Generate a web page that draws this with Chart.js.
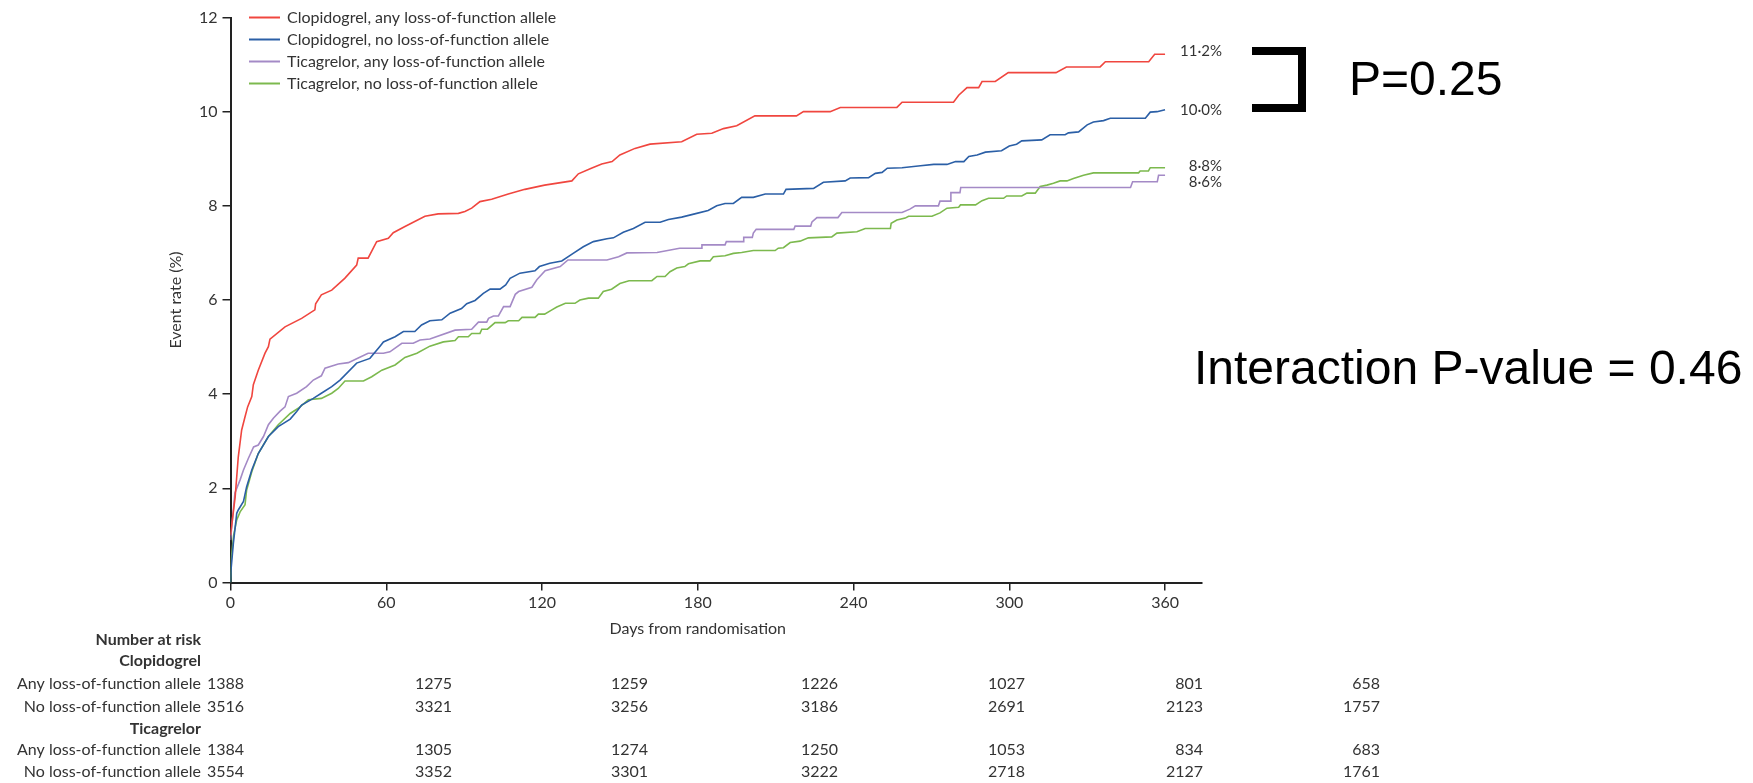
<!DOCTYPE html>
<html>
<head>
<meta charset="utf-8">
<script src="https://cdn.jsdelivr.net/npm/chart.js@4.4.0/dist/chart.umd.min.js"></script>
<style>
  html, body { margin: 0; padding: 0; background: #fff; }
  #wrap { width: 1753px; height: 783px; position: relative; }
</style>
</head>
<body>
<div id="wrap"><canvas id="kmChart"></canvas></div>
<script>
// Series names / colours
const seriesNames = [
  "Clopidogrel, any loss-of-function allele",
  "Clopidogrel, no loss-of-function allele",
  "Ticagrelor, any loss-of-function allele",
  "Ticagrelor, no loss-of-function allele",
];
const seriesColors = ["#f0463f", "#2b5fa6", "#a48ac6", "#7cb94e"];
const endLabels = ["11·2%", "10·0%", "8·6%", "8·8%"];

// Kaplan-Meier curves: [day, event rate %]
const clopAnyCurve = [
  [0, 1.0], [1.8, 1.82], [3.0, 2.67], [4.3, 3.24], [5.6, 3.52], [6.6, 3.73], [8.2, 3.95],
  [8.8, 4.2], [10.7, 4.51], [13.3, 4.87], [14.6, 5.01], [15.2, 5.17], [21, 5.43], [27.4, 5.61],
  [32.5, 5.79], [32.8, 5.92], [35, 6.11], [39, 6.21], [44, 6.46], [48.6, 6.74], [49.2, 6.89],
  [53, 6.89], [56.3, 7.24], [60.8, 7.31], [62.7, 7.43], [67.2, 7.56], [74.9, 7.78], [80, 7.83],
  [87.8, 7.84], [90.3, 7.88], [92.9, 7.95], [96.1, 8.09], [100.6, 8.14], [107, 8.25],
  [113.4, 8.35], [121, 8.44], [131.5, 8.53], [134, 8.68], [139, 8.8], [143, 8.89], [147, 8.94],
  [150, 9.08], [155.8, 9.22], [161.6, 9.31], [173.8, 9.36], [179.6, 9.52], [185.4, 9.54],
  [189.9, 9.64], [195, 9.7], [202, 9.91], [218, 9.91], [220.7, 10.0], [231, 10.0],
  [234.9, 10.09], [256.7, 10.09], [258.7, 10.2], [278.5, 10.2], [280.5, 10.35], [283.7, 10.51],
  [288.2, 10.51], [289.5, 10.64], [294.6, 10.64], [299.6, 10.83], [318, 10.83], [322, 10.95],
  [335, 10.95], [337, 11.06], [353.7, 11.06], [356, 11.22], [360, 11.22],
];
const clopNoCurve = [
  [0, 0], [0.2, 0.27], [1.1, 0.83], [2.4, 1.47], [3, 1.54], [5, 1.72], [6.2, 2.03], [8.2, 2.39],
  [10.7, 2.74], [14.6, 3.1], [18.4, 3.31], [23, 3.47], [25.5, 3.63], [27.4, 3.77], [31.9, 3.91],
  [35, 4.02], [39, 4.16], [42.2, 4.3], [48.6, 4.66], [53.7, 4.76], [57.6, 5.02], [58.9, 5.11],
  [63.4, 5.22], [66.6, 5.33], [71, 5.33], [73.6, 5.47], [76.8, 5.56], [81.4, 5.58], [84.6, 5.72],
  [89, 5.82], [91, 5.92], [94.2, 5.99], [97.4, 6.14], [100, 6.23], [103.8, 6.23], [106, 6.32],
  [107.7, 6.46], [111.5, 6.57], [117.3, 6.62], [119, 6.71], [123, 6.78], [127.6, 6.83],
  [132, 6.99], [135.9, 7.13], [139.8, 7.24], [145, 7.3], [147.5, 7.32], [151.3, 7.44],
  [155.2, 7.52], [159.7, 7.65], [165.5, 7.65], [168.7, 7.71], [173.8, 7.76], [179.6, 7.84],
  [184, 7.9], [187.3, 8.0], [190.5, 8.05], [193.7, 8.05], [196.9, 8.18], [201.4, 8.18],
  [206, 8.25], [213, 8.25], [214, 8.35], [224.6, 8.37], [228.4, 8.5], [236.8, 8.53],
  [238.7, 8.59], [245.8, 8.6], [248.4, 8.69], [251, 8.71], [253, 8.8], [258.7, 8.81],
  [265.8, 8.85], [270.9, 8.88], [276, 8.88], [279.3, 8.94], [282.5, 8.94], [284.4, 9.05],
  [287.6, 9.08], [290.8, 9.14], [297, 9.17], [300, 9.27], [302.8, 9.31], [304.8, 9.38],
  [312.5, 9.4], [315.7, 9.51], [321.5, 9.51], [322.8, 9.55], [326.7, 9.57], [330, 9.72],
  [332.4, 9.78], [336.3, 9.81], [338.9, 9.86], [352.4, 9.86], [354.3, 9.99], [356.9, 10.0],
  [360, 10.04],
];
const ticaAnyCurve = [
  [0, 0.9], [1.7, 1.9], [3.7, 2.18], [5, 2.39], [6.9, 2.64], [8.9, 2.88], [10.7, 2.92],
  [12.7, 3.1], [14.6, 3.35], [16.5, 3.49], [19.1, 3.64], [21, 3.73], [22.3, 3.95], [25.5, 4.02],
  [29.3, 4.16], [31.9, 4.3], [35, 4.39], [36.4, 4.55], [41.5, 4.64], [45.4, 4.67], [49.2, 4.77],
  [53, 4.87], [58.9, 4.87], [61.4, 4.9], [66, 5.08], [70.4, 5.08], [73, 5.15], [76.8, 5.17],
  [86.5, 5.36], [92.9, 5.38], [95.5, 5.53], [98.7, 5.53], [99.4, 5.61], [101.3, 5.66],
  [103.2, 5.66], [105.2, 5.86], [107.7, 5.86], [109.7, 6.12], [111, 6.18], [116.1, 6.27],
  [118, 6.43], [121.2, 6.62], [127, 6.71], [130, 6.85], [145, 6.85], [149.5, 6.92],
  [152.7, 7.0], [164.3, 7.01], [173, 7.1], [181.5, 7.1], [181.6, 7.17], [190.5, 7.17],
  [191, 7.24], [197.6, 7.24], [197.7, 7.33], [201, 7.33], [201.4, 7.42], [202.5, 7.5],
  [217, 7.5], [217.5, 7.57], [223.5, 7.57], [224, 7.66], [225.9, 7.75], [234, 7.75],
  [235.5, 7.86], [258.7, 7.86], [261.7, 7.93], [263.8, 8.0], [272.7, 8.0], [273.3, 8.1],
  [277.2, 8.1], [277.5, 8.28], [281, 8.28], [281.3, 8.39], [346.7, 8.39], [347.5, 8.51],
  [357, 8.51], [357.5, 8.65], [360, 8.65],
];
const ticaNoCurve = [
  [0, 0], [0.3, 0.5], [1.2, 1.0], [2.4, 1.33], [3.7, 1.5], [5.6, 1.65], [6.2, 1.96], [8.2, 2.35],
  [10.7, 2.74], [14.6, 3.1], [18.4, 3.35], [23, 3.59], [26.1, 3.7], [30, 3.88], [35, 3.91],
  [39, 4.02], [41.5, 4.12], [44.1, 4.28], [51.2, 4.28], [54.4, 4.37], [58.3, 4.51], [63.4, 4.62],
  [67.2, 4.78], [71.8, 4.87], [76.8, 5.02], [82, 5.11], [86.5, 5.14], [87.8, 5.22], [91.6, 5.22],
  [92.9, 5.29], [96.1, 5.29], [96.8, 5.38], [99, 5.38], [101.9, 5.52], [105.8, 5.52], [107, 5.56],
  [111, 5.56], [112.3, 5.63], [117.3, 5.63], [118.6, 5.7], [121, 5.7], [123.8, 5.79],
  [125.7, 5.85], [129, 5.93], [132.7, 5.93], [134.6, 6.0], [137.9, 6.04], [141.7, 6.04],
  [143.6, 6.18], [146.8, 6.23], [150, 6.35], [153.5, 6.41], [162.3, 6.41], [164.3, 6.5],
  [167.4, 6.5], [169.3, 6.6], [171.9, 6.68], [175, 6.71], [176.4, 6.77], [180.9, 6.83],
  [184.7, 6.83], [186, 6.92], [190.5, 6.94], [193.7, 6.99], [196.9, 7.01], [201.4, 7.05],
  [209.8, 7.05], [211, 7.1], [213, 7.11], [215.6, 7.22], [219.4, 7.25], [222.6, 7.32],
  [231.6, 7.34], [233.6, 7.42], [241.3, 7.45], [244.5, 7.52], [254.2, 7.52], [254.5, 7.63],
  [256.7, 7.7], [259.9, 7.74], [261.2, 7.78], [270.2, 7.78], [273.3, 7.85], [276, 7.95],
  [280.5, 7.97], [281.2, 8.02], [287, 8.02], [289.5, 8.11], [292, 8.16], [297.8, 8.16],
  [299, 8.21], [304.8, 8.21], [306.8, 8.27], [310, 8.27], [311.9, 8.41], [314.5, 8.44],
  [317, 8.48], [319.6, 8.53], [322.2, 8.53], [324.7, 8.58], [328.6, 8.65], [332.4, 8.7],
  [349.8, 8.7], [350.4, 8.74], [353.6, 8.74], [354.3, 8.81], [360, 8.81],
];

// Axis ticks
const xTickValues = [0, 60, 120, 180, 240, 300, 360];
const yTickValues = [0, 2, 4, 6, 8, 10, 12];
const xTitle = "Days from randomisation";

// Number at risk table
const riskTitle = "Number at risk";
const riskGroups = ["Clopidogrel", "Ticagrelor"];
const riskRowLabels = ["Any loss-of-function allele", "No loss-of-function allele"];
const clopAnyRisk = [1388, 1275, 1259, 1226, 1027, 801, 658];
const clopNoRisk = [3516, 3321, 3256, 3186, 2691, 2123, 1757];
const ticaAnyRisk = [1384, 1305, 1274, 1250, 1053, 834, 683];
const ticaNoRisk = [3554, 3352, 3301, 3222, 2718, 2127, 1761];

// Annotations
const pairP = "P=0.25";
const interactionP = "Interaction P-value = 0.46";

const curves = [clopAnyCurve, clopNoCurve, ticaAnyCurve, ticaNoCurve];
const TEXT = "#333";
const FONT = "Lato, 'Open Sans', sans-serif";

// layout constants
const labelNudge = [-3, 0, 7, -2];
const riskColRight = [244, 452, 648, 838, 1025, 1203, 1380];
const riskLabelRight = 201;
const riskRowY = [640, 661, 684, 707, 729, 750, 772];

const overlayPlugin = {
  id: "overlay",
  afterDraw(chart) {
    const ctx = chart.ctx;
    const xs = chart.scales.x;
    const ys = chart.scales.y;
    ctx.save();

    // legend, top-left inside the plot
    ctx.font = "16px " + FONT;
    ctx.textBaseline = "middle";
    ctx.textAlign = "left";
    chart.data.datasets.forEach((ds, i) => {
      const y = 17.5 + i * 22;
      ctx.strokeStyle = ds.borderColor;
      ctx.lineWidth = 2;
      ctx.beginPath();
      ctx.moveTo(249, y);
      ctx.lineTo(280, y);
      ctx.stroke();
      ctx.fillStyle = TEXT;
      ctx.fillText(ds.label, 287, y);
    });

    // x axis title, centred under 0..360
    ctx.textAlign = "center";
    ctx.fillText(xTitle, (xs.getPixelForValue(0) + xs.getPixelForValue(360)) / 2, 629);

    // end-of-curve percentages
    ctx.font = "15px " + FONT;
    ctx.textAlign = "right";
    curves.forEach((c, i) => {
      const last = c[c.length - 1];
      ctx.fillStyle = TEXT;
      ctx.fillText(endLabels[i], 1222, ys.getPixelForValue(last[1]) + labelNudge[i]);
    });

    // number at risk
    ctx.textAlign = "right";
    ctx.font = "bold 16px " + FONT;
    ctx.fillText(riskTitle, riskLabelRight, riskRowY[0]);
    const rows = [
      { group: riskGroups[0] },
      { label: riskRowLabels[0], values: clopAnyRisk },
      { label: riskRowLabels[1], values: clopNoRisk },
      { group: riskGroups[1] },
      { label: riskRowLabels[0], values: ticaAnyRisk },
      { label: riskRowLabels[1], values: ticaNoRisk },
    ];
    rows.forEach((r, i) => {
      const y = riskRowY[i + 1];
      if (r.group) {
        ctx.font = "bold 16px " + FONT;
        ctx.fillText(r.group, riskLabelRight, y);
        return;
      }
      ctx.font = "16px " + FONT;
      ctx.fillText(r.label, riskLabelRight, y);
      r.values.forEach((v, j) => ctx.fillText(String(v), riskColRight[j], y));
    });

    // bracket + P values
    ctx.strokeStyle = "#000";
    ctx.lineWidth = 8;
    ctx.lineJoin = "miter";
    ctx.beginPath();
    ctx.moveTo(1252, 51);
    ctx.lineTo(1302, 51);
    ctx.lineTo(1302, 108);
    ctx.lineTo(1252, 108);
    ctx.stroke();

    ctx.fillStyle = "#000";
    ctx.textAlign = "left";
    ctx.textBaseline = "alphabetic";
    ctx.font = "48px 'Liberation Sans', Arial, sans-serif";
    ctx.fillText(pairP, 1349, 95);
    ctx.fillText(interactionP, 1194, 384);

    ctx.restore();
  },
};

new Chart(document.getElementById("kmChart"), {
  type: "line",
  data: {
    datasets: curves.map((c, i) => ({
      label: seriesNames[i],
      data: c.map((p) => ({ x: p[0], y: p[1] })),
      borderColor: seriesColors[i],
      borderWidth: 1.6,
      pointRadius: 0,
      tension: 0,
      fill: false,
    })),
  },
  options: {
    responsive: true,
    maintainAspectRatio: false,
    animation: false,
    layout: { padding: { left: 162.5, top: 17.5, right: 551.6, bottom: 140.5 } },
    plugins: { legend: { display: false }, tooltip: { enabled: false } },
    scales: {
      x: {
        type: "linear",
        min: 0,
        max: 374,
        afterBuildTicks: (s) => { s.ticks = xTickValues.map((v) => ({ value: v })); },
        afterFit: (s) => { s.height = 60; },
        grid: { drawOnChartArea: false, tickLength: 8, color: "#222", lineWidth: 1.5 },
        border: { color: "#222", width: 2 },
        ticks: { color: TEXT, font: { family: FONT, size: 16 }, padding: 3 },
      },
      y: {
        min: 0,
        max: 12,
        afterBuildTicks: (s) => { s.ticks = yTickValues.map((v) => ({ value: v })); },
        afterFit: (s) => { s.width = 68; },
        grid: { drawOnChartArea: false, tickLength: 8, color: "#222", lineWidth: 1.5 },
        border: { color: "#222", width: 2 },
        ticks: { color: TEXT, font: { family: FONT, size: 16 }, padding: 5 },
        title: { display: true, text: "Event rate (%)", color: TEXT, font: { family: FONT, size: 16 } },
      },
    },
  },
  plugins: [overlayPlugin],
});
</script>
</body>
</html>
